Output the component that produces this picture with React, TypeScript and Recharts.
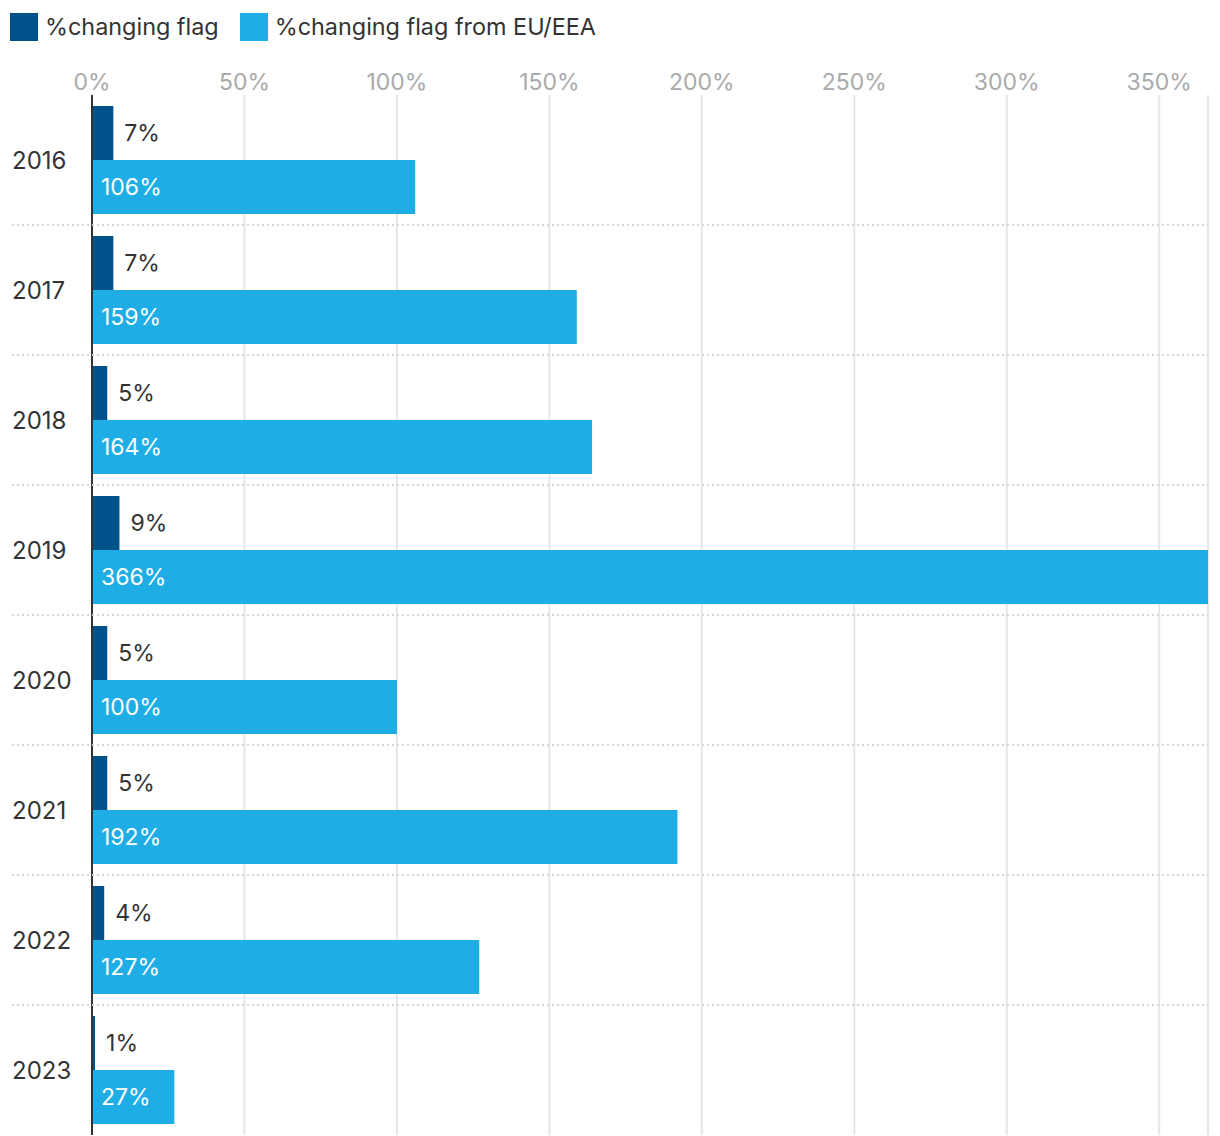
import React from 'react';
import { BarChart, Bar, XAxis, YAxis, CartesianGrid, Legend, LabelList } from 'recharts';

const years = ['2016', '2017', '2018', '2019', '2020', '2021', '2022', '2023'];
const changingFlag = [7, 7, 5, 9, 5, 5, 4, 1];
const changingFlagEU = [106, 159, 164, 366, 100, 192, 127, 27];
const xTicks = [0, 50, 100, 150, 200, 250, 300, 350];
const seriesNames = ['%changing flag', '%changing flag from EU/EEA'];
const colors = ['#00538a', '#1fade6'];

const data = years.map((y, i) => ({ year: y, a: changingFlag[i], b: changingFlagEU[i] }));

const FONT = 'Inter, "Noto Sans", sans-serif';
const FS = 23;

const LegendContent = () => (
  <div style={{ height: 52, display: 'flex', alignItems: 'flex-start', paddingTop: 13, paddingLeft: 10, boxSizing: 'border-box', fontFamily: FONT, fontSize: 23.4, color: '#333' }}>
    {seriesNames.map((n, i) => (
      <div key={n} style={{ display: 'flex', alignItems: 'center', marginRight: 21 }}>
        <div style={{ width: 28, height: 28, background: colors[i], marginRight: 7 }} />
        <span style={{ lineHeight: '28px' }}>{n}</span>
      </div>
    ))}
  </div>
);

const XTick = (props: any) => {
  const { x, y, payload } = props;
  return (
    <text x={x} y={y} textAnchor="middle" fill="#aaaaaa" fontSize={FS} fontFamily={FONT}>
      {`${payload.value}%`}
    </text>
  );
};

const YTick = (props: any) => {
  const { y, payload, index } = props;
  const half = payload && typeof payload.offset === 'number' && payload.offset > 0 ? payload.offset : 65;
  return (
    <g>
      {index < years.length - 1 && (
        <line x1={12} x2={1208} y1={y + half} y2={y + half} stroke="#d6d6d6" strokeWidth={2} strokeDasharray="2 3" />
      )}
      <text x={12} y={y} dy="0.36em" textAnchor="start" fill="#333" fontSize={24} fontFamily={FONT}>
        {payload.value}
      </text>
    </g>
  );
};

export default function App() {
  return (
    <div style={{ position: 'absolute', left: 0, top: 0, width: 1220, height: 1136, background: '#fff' }}>
      <BarChart
        width={1220}
        height={1136}
        data={data}
        layout="vertical"
        margin={{ top: 0, right: 12, bottom: 1, left: 0 }}
        barCategoryGap={11}
        barGap={0}
      >
        <Legend verticalAlign="top" align="left" content={<LegendContent />} wrapperStyle={{ left: 0, top: 0 }} />
        <CartesianGrid horizontal={false} vertical stroke="#e6e6e6" strokeWidth={2} />
        <XAxis
          type="number"
          orientation="top"
          domain={[0, 366]}
          ticks={xTicks}
          axisLine={false}
          tickLine={false}
          tickSize={0}
          tickMargin={5}
          height={43}
          tick={<XTick />}
          interval={0}
        />
        <YAxis
          type="category"
          dataKey="year"
          width={92}
          axisLine={{ stroke: '#333', strokeWidth: 2 }}
          tickLine={false}
          tick={<YTick />}
          interval={0}
        />
        <Bar dataKey="a" name={seriesNames[0]} fill={colors[0]} isAnimationActive={false}>
          <LabelList dataKey="a" position="right" offset={11} formatter={(v: any) => `${v}%`} fill="#333" fontSize={FS} fontFamily={FONT} />
        </Bar>
        <Bar dataKey="b" name={seriesNames[1]} fill={colors[1]} isAnimationActive={false}>
          <LabelList dataKey="b" position="insideLeft" offset={9} formatter={(v: any) => `${v}%`} fill="#ffffff" fontSize={FS} fontFamily={FONT} />
        </Bar>
      </BarChart>
    </div>
  );
}
